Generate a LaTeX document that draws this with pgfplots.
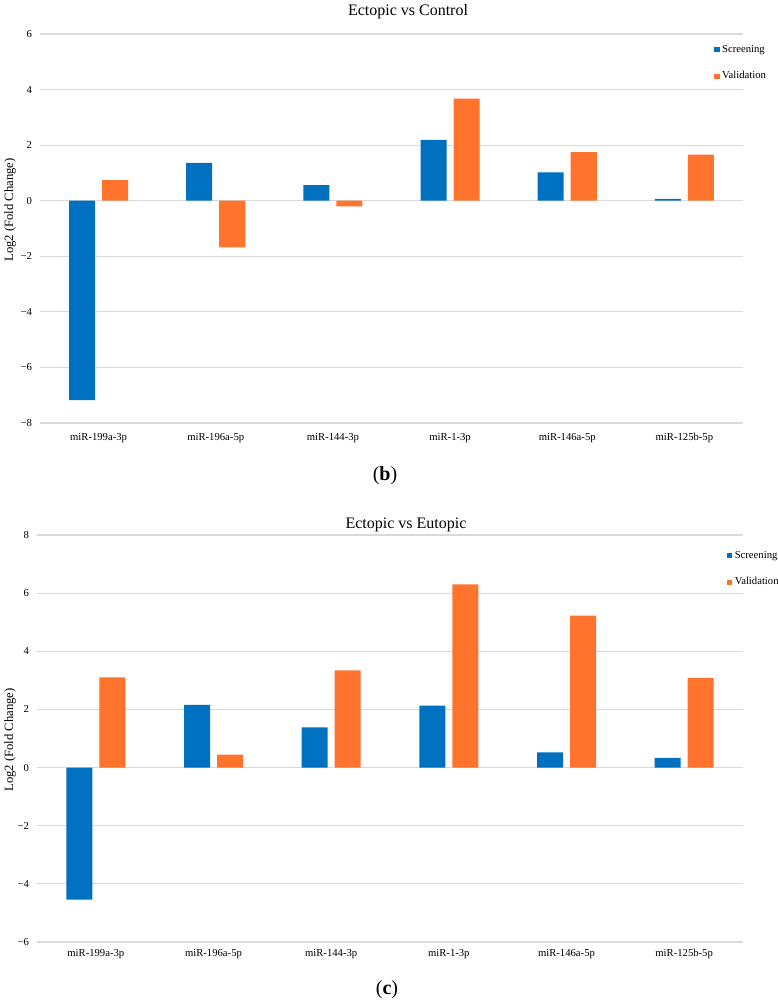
\documentclass[border=0pt]{standalone}
\usepackage{fontspec}
\setmainfont{Liberation Serif}
\usepackage{pgfplots}
\pgfplotsset{compat=1.18}
\definecolor{scr}{RGB}{0,112,192}
\definecolor{val}{RGB}{255,115,45}
\definecolor{gridc}{RGB}{217,217,217}

\pgfplotsset{mirbars/.style={
    scale only axis,
    ybar=5.25pt, bar width=19.5pt,
    xmin=-0.5, xmax=5.5,
    xtick={0,1,2,3,4,5},
    xticklabels={miR-199a-3p,miR-196a-5p,miR-144-3p,miR-1-3p,miR-146a-5p,miR-125b-5p},
    axis line style={draw=none},
    major tick length=0pt,
    ymajorgrids, grid style={gridc, line width=0.8pt},
    tick label style={font=\fontsize{8}{9}\selectfont},
    yticklabel style={xshift=-2.5pt},
    legend style={draw=none, fill=none, inner sep=0pt, row sep=9pt,
                  font=\fontsize{8}{9}\selectfont, cells={anchor=west}},
    legend image code/.code={\fill[##1] (0pt,-1.9pt) rectangle (3.8pt,1.9pt);},
    legend cell align=left,
}}

\begin{document}
\begin{tikzpicture}
\path[use as bounding box] (0,0) rectangle (583.5pt,-752.25pt);

% (b) Ectopic vs Control
\begin{axis}[mirbars,
    at={(30pt,-317.25pt)}, anchor=south west,
    width=527.25pt, height=291.75pt,
    ymin=-8, ymax=6, ytick={-8,-6,-4,-2,0,2,4,6},
    yticklabels={−8,−6,−4,−2,0,2,4,6},
    xticklabel style={yshift=-4pt},
    legend style={at={(axis description cs:0.959,0.979)}, anchor=north west},
]
\addplot[fill=scr, draw=none] coordinates {(0,-7.18)(1,1.36)(2,0.56)(3,2.19)(4,1.02)(5,0.07)};
\addlegendentry{Screening}
\addplot[fill=val, draw=none] coordinates {(0,0.74)(1,-1.68)(2,-0.20)(3,3.67)(4,1.75)(5,1.66)};
\addlegendentry{Validation}
\end{axis}
\node[font=\fontsize{12}{14}\selectfont] at (306pt,-9pt) {Ectopic vs Control};
\node[rotate=90, font=\fontsize{9.5}{11}\selectfont] at (7.5pt,-157.5pt) {Log2 (Fold Change)};
\node[font=\fontsize{15}{17}\selectfont] at (288.75pt,-357pt) {(\textbf{b})};

% (c) Ectopic vs Eutopic
\begin{axis}[mirbars,
    at={(27.75pt,-706.5pt)}, anchor=south west,
    width=529.5pt, height=305.25pt,
    ymin=-6, ymax=8, ytick={-6,-4,-2,0,2,4,6,8},
    yticklabels={−6,−4,−2,0,2,4,6,8},
    xticklabel style={yshift=-2pt},
    legend style={at={(axis description cs:0.977,0.968)}, anchor=north west},
]
\addplot[fill=scr, draw=none] coordinates {(0,-4.54)(1,2.16)(2,1.38)(3,2.13)(4,0.52)(5,0.33)};
\addlegendentry{Screening}
\addplot[fill=val, draw=none] coordinates {(0,3.10)(1,0.45)(2,3.34)(3,6.30)(4,5.23)(5,3.09)};
\addlegendentry{Validation}
\end{axis}
\node[font=\fontsize{12}{14}\selectfont] at (304.5pt,-394pt) {Ectopic vs Eutopic};
\node[rotate=90, font=\fontsize{9.5}{11}\selectfont] at (7.5pt,-555pt) {Log2 (Fold Change)};
\node[font=\fontsize{15}{17}\selectfont] at (290.25pt,-742.5pt) {(\textbf{c})};
\end{tikzpicture}
\end{document}
